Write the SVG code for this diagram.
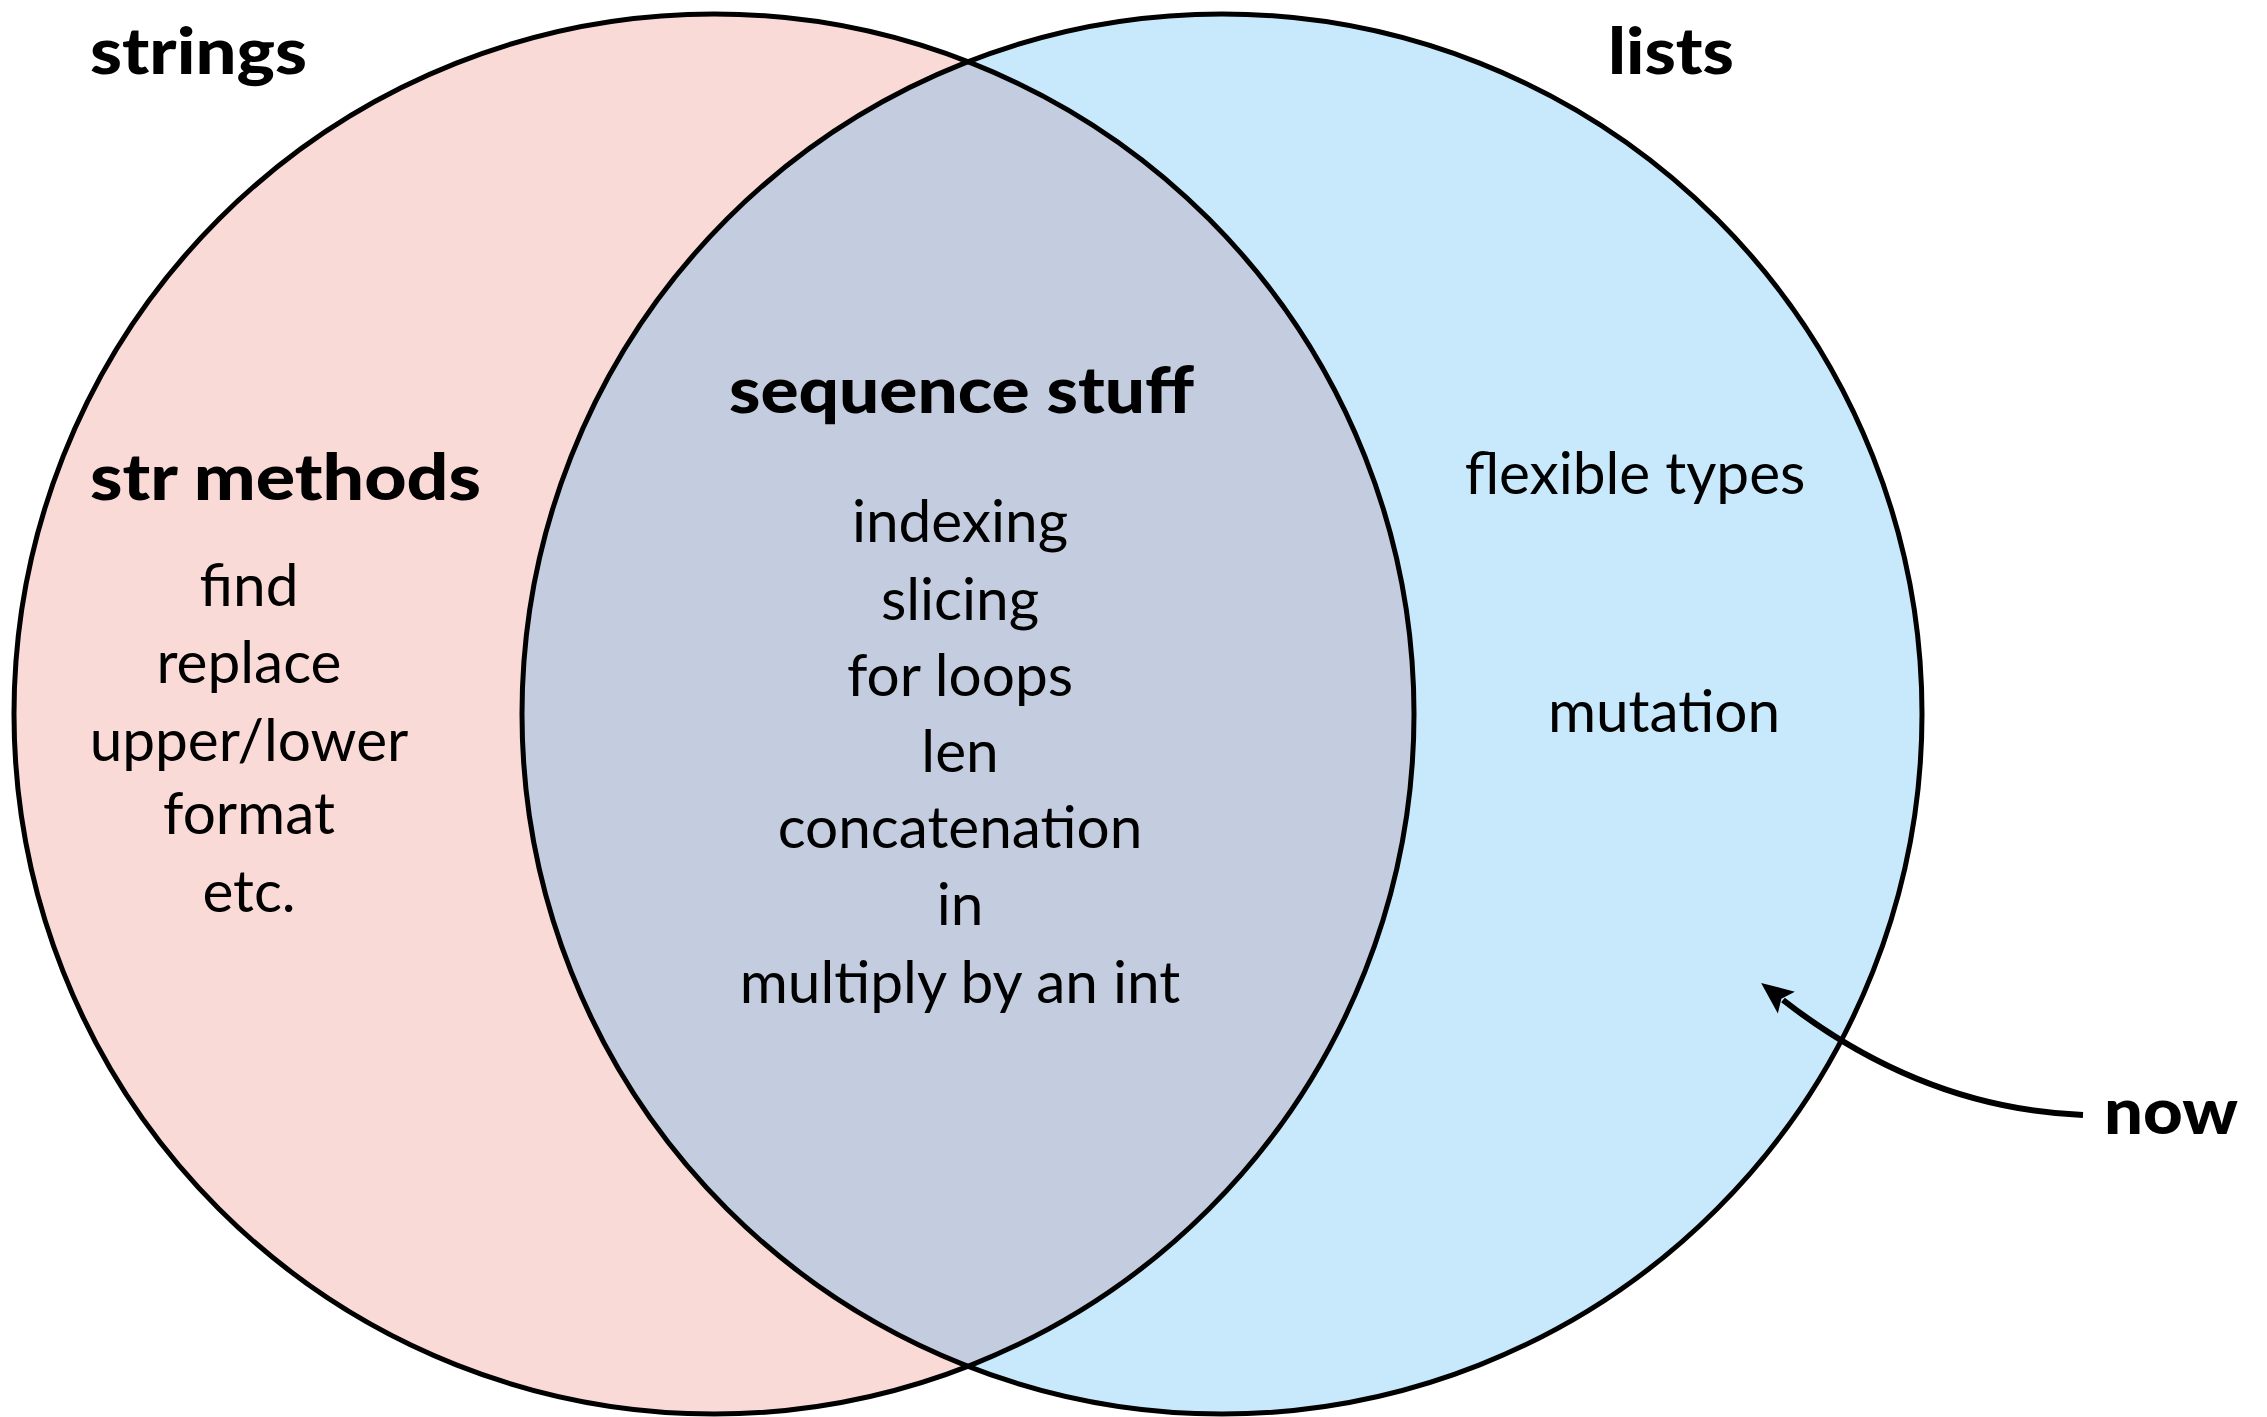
<svg xmlns="http://www.w3.org/2000/svg" width="2267" height="1417" viewBox="0 0 2267 1417">
<style>
.reg{font-family:Lato,"Open Sans","Liberation Sans",sans-serif;font-size:58.5px;fill:#000;text-anchor:middle}
.bold{font-family:Lato,"Open Sans","Liberation Sans",sans-serif;font-size:64px;font-weight:900;fill:#000}
.ring{fill:none;stroke:#000;stroke-width:5}
</style>
<defs>
<marker id="ah" markerUnits="userSpaceOnUse" markerWidth="32" markerHeight="32" refX="4" refY="13" orient="auto" viewBox="0 0 30 26">
<path d="M0,0 L30,13 L0,26 L6,13 Z" fill="#000"/>
</marker>
</defs>
<rect width="2267" height="1417" fill="#fff"/>
<g id="strings">
<circle cx="714" cy="714" r="700" fill="#fadad6"/>
</g>
<g id="lists">
<circle cx="1222" cy="714" r="700" fill="#c7e9fb"/>
</g>
<g id="overlap">
<path d="M968,61.7 A700,700 0 0 0 968,1366.3 A700,700 0 0 0 968,61.7 Z" fill="#c4cddf"/>
</g>
<circle class="ring" cx="714" cy="714" r="700"/>
<circle class="ring" cx="1222" cy="714" r="700"/>
<g id="labels">
<text class="bold" x="90" y="74" textLength="217" lengthAdjust="spacingAndGlyphs">strings</text>
<text class="bold" x="1608" y="74" textLength="126" lengthAdjust="spacingAndGlyphs">lists</text>
<text class="bold" x="90" y="500" textLength="391" lengthAdjust="spacingAndGlyphs">str methods</text>
<text class="reg" x="249" y="606">find</text>
<text class="reg" x="249" y="683">replace</text>
<text class="reg" x="249" y="761">upper/lower</text>
<text class="reg" x="249" y="834">format</text>
<text class="reg" x="249" y="912">etc.</text>
<text class="bold" x="729" y="413" textLength="465" lengthAdjust="spacingAndGlyphs">sequence stuff</text>
<text class="reg" x="960" y="542">indexing</text>
<text class="reg" x="960" y="620">slicing</text>
<text class="reg" x="960" y="696">for loops</text>
<text class="reg" x="960" y="772">len</text>
<text class="reg" x="960" y="848">concatenation</text>
<text class="reg" x="960" y="925">in</text>
<text class="reg" x="960" y="1003">multiply by an int</text>
<text class="reg" x="1635" y="494">flexible types</text>
<text class="reg" x="1664" y="732">mutation</text>
</g>
<g id="now">
<text class="bold" x="2104" y="1134" textLength="134" lengthAdjust="spacingAndGlyphs">now</text>
</g>
<g id="connectors">
<path d="M2083,1115 C1960,1110 1860,1060 1783,1000" fill="none" stroke="#000" stroke-width="6" marker-end="url(#ah)"/>
</g>
</svg>
